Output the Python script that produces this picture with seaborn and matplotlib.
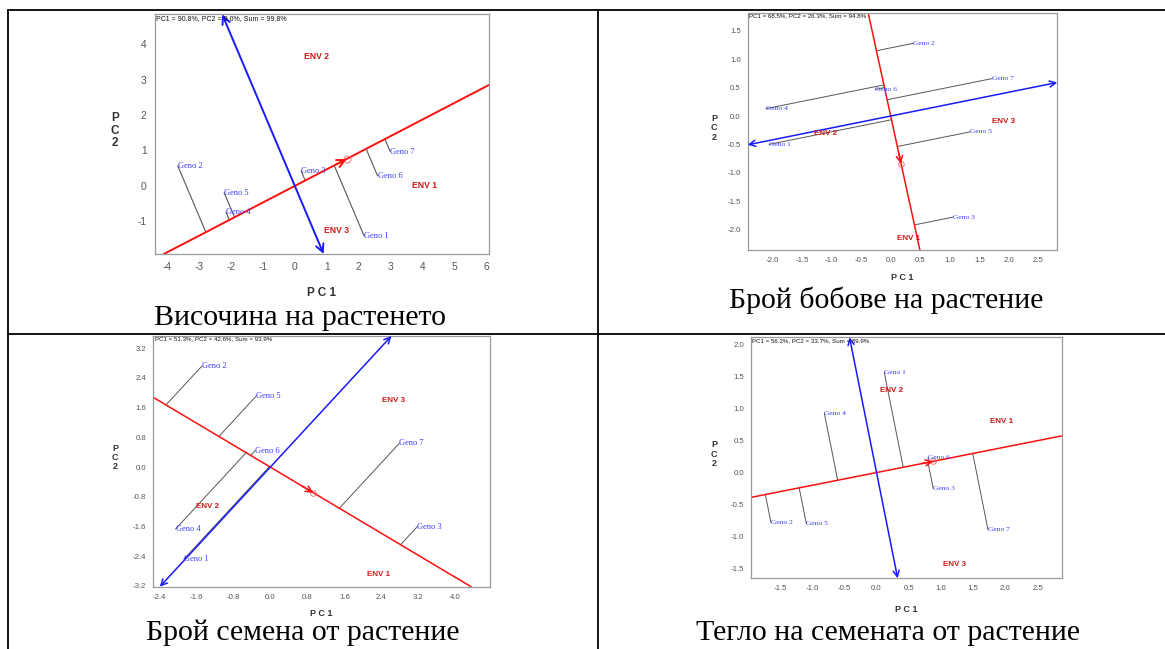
import numpy as np
import pandas as pd
import matplotlib
matplotlib.use("Agg")
import matplotlib.pyplot as plt
from matplotlib.lines import Line2D
import seaborn as sns

sns.set_style("white")
plt.rcParams['font.family'] = ['Liberation Sans', 'DejaVu Sans']

genotypes = ["Geno 1", "Geno 2", "Geno 3", "Geno 4", "Geno 5", "Geno 6", "Geno 7"]
environments = ["ENV 1", "ENV 2", "ENV 3"]

# Plant height
gx1 = [2.17, -3.66, 0.20, -2.15, -2.21, 2.59, 2.98]
gy1 = [-1.42, 0.57, 0.42, -0.74, -0.19, 0.28, 0.97]
ex1 = [4.07, 0.69, 1.31]
ey1 = [0.00, 3.64, -1.27]
avg1 = [1.62, 0.76]
title1 = "PC1 = 90.8%, PC2 = 9.0%, Sum = 99.8%"
caption1 = "Височина на растенето"

# Pods per plant
gx2 = [-2.06, 0.38, 1.06, -2.11, 1.34, -0.26, 1.72]
gy2 = [-0.50, 1.28, -1.78, 0.13, -0.28, 0.47, 0.66]
ex2 = [0.30, -1.10, 1.91]
ey2 = [-2.15, -0.31, -0.09]
avg2 = [0.176, -0.84]
title2 = "PC1 = 68.5%, PC2 = 26.3%, Sum = 94.8%"
caption2 = "Брой бобове на растение"

# Seeds per plant
gx3 = [-1.87, -1.48, 3.18, -2.05, -0.30, -0.33, 2.79]
gy3 = [-2.48, 2.72, -1.60, -1.67, 1.92, 0.44, 0.64]
ex3 = [2.33, -1.35, 2.66]
ey3 = [-2.90, -1.06, 1.79]
avg3 = [0.93, -0.69]
title3 = "PC1 = 51.3%, PC2 = 42.6%, Sum = 93.9%"
caption3 = "Брой семена от растение"

# Seed weight per plant
gx4 = [0.12, -1.64, 0.88, -0.81, -1.09, 0.80, 1.73]
gy4 = [1.56, -0.78, -0.25, 0.92, -0.80, 0.23, -0.89]
ex4 = [1.945, 0.225, 1.21]
ey4 = [0.80, 1.28, -1.44]
avg4 = [0.88, 0.175]
title4 = "PC1 = 56.2%, PC2 = 33.7%, Sum = 89.9%"
caption4 = "Тегло на семената от растение"

xt1 = [-4, -3, -2, -1, 0, 1, 2, 3, 4, 5, 6]
yt1 = [-1, 0, 1, 2, 3, 4]
xt2 = [-2.0, -1.5, -1.0, -0.5, 0.0, 0.5, 1.0, 1.5, 2.0, 2.5]
yt2 = [-2.0, -1.5, -1.0, -0.5, 0.0, 0.5, 1.0, 1.5]
xt3 = [-2.4, -1.6, -0.8, 0.0, 0.8, 1.6, 2.4, 3.2, 4.0]
yt3 = [-3.2, -2.4, -1.6, -0.8, 0.0, 0.8, 1.6, 2.4, 3.2]
xt4 = [-1.5, -1.0, -0.5, 0.0, 0.5, 1.0, 1.5, 2.0, 2.5]
yt4 = [-1.5, -1.0, -0.5, 0.0, 0.5, 1.0, 1.5, 2.0]

W, H = 1165, 649
fig = plt.figure(figsize=(W / 100, H / 100), dpi=100)
fig.patch.set_facecolor("white")

RED = "#ff1010"
BLUE = "#1a1aff"
GENO_C = "#3a3aff"
ENV_C = "#d01818"


def box(l, t, r, b):
    return [l / W, 1 - b / H, (r - l) / W, (b - t) / H]


def edge_point(p, xlim, ylim):
    # furthest point along direction p from the origin that stays inside the axes
    ts = []
    for comp, lim in ((p[0], xlim), (p[1], ylim)):
        if comp > 0:
            ts.append(lim[1] / comp)
        elif comp < 0:
            ts.append(lim[0] / comp)
    return p * min(ts)


def biplot(rect, gx, gy, ex, ey, avg, title, xlim, ylim, xt, yt, fmt, st):
    ax = fig.add_axes(box(*rect))
    gx, gy = np.asarray(gx), np.asarray(gy)
    a = np.asarray(avg, dtype=float)
    d = a / np.linalg.norm(a)
    p = np.array([-d[1], d[0]])

    # projections of genotypes onto the average-environment axis
    t = gx * d[0] + gy * d[1]
    seg = pd.DataFrame({
        "x": np.concatenate([gx, t * d[0]]),
        "y": np.concatenate([gy, t * d[1]]),
        "g": list(range(len(gx))) * 2,
    })
    sns.lineplot(data=seg, x="x", y="y", units="g", estimator=None, sort=False,
                 color="#555555", lw=st["gl"], ax=ax, legend=False)

    # average-environment axis through the origin
    e1 = edge_point(d, xlim, ylim)
    e0 = edge_point(-d, xlim, ylim)
    sns.lineplot(x=[e0[0], e1[0]], y=[e0[1], e1[1]], sort=False, estimator=None,
                 color=RED, lw=st["lw"], ax=ax)
    back = a - d * st["ab"]
    ax.annotate("", xy=a, xytext=back,
                arrowprops=dict(arrowstyle="->", color=RED, lw=st["lw"],
                                mutation_scale=st["ms"], shrinkA=0, shrinkB=0))
    ax.plot([a[0]], [a[1]], marker="o", ms=st["cm"], mfc="none", mec="#ff6060",
            mew=0.6, ls="none")

    # perpendicular axis with arrows at both ends
    b1 = edge_point(p, xlim, ylim)
    b0 = edge_point(-p, xlim, ylim)
    ax.annotate("", xy=b1, xytext=b0,
                arrowprops=dict(arrowstyle="<->", color=BLUE, lw=st["lw"],
                                mutation_scale=st["ms"], shrinkA=0, shrinkB=0))

    for name, x, y in zip(genotypes, gx, gy):
        ax.text(x, y, name, color=GENO_C, family="Liberation Serif",
                fontsize=st["gf"], ha="left", va="center")
    for name, x, y in zip(environments, ex, ey):
        ax.text(x, y, name, color=ENV_C, fontweight="bold",
                fontsize=st["ef"], ha="center", va="center")

    ax.text(0.004, 0.997, title, transform=ax.transAxes, ha="left", va="top",
            fontsize=st["tf"], color="#111111")

    ax.set_xlim(xlim)
    ax.set_ylim(ylim)
    ax.set_xticks(xt)
    ax.set_yticks(yt)
    ax.set_xticklabels([fmt.format(v) for v in xt])
    ax.set_yticklabels([fmt.format(v) for v in yt])
    ax.tick_params(direction="out", length=st["tl"], width=0.8, color="#888888",
                   labelcolor="#555555", labelsize=st["lf"], pad=2)
    for s in ax.spines.values():
        s.set_color("#9a9a9a")
        s.set_linewidth(0.9)
    ax.set_xlabel("P C 1", fontweight="bold", fontsize=st["af"], color="#333333")
    ax.set_ylabel("P\nC\n2", fontweight="bold", fontsize=st["af"], color="#333333",
                  rotation=0, linespacing=1.05)
    ax.xaxis.set_label_coords(0.5, st["xl"])
    ax.xaxis.label.set_va("center")
    ax.yaxis.set_label_coords(st["yl"], 0.515)
    ax.yaxis.label.set_va("center")
    ax.yaxis.label.set_ha("center")
    return ax


big = dict(lw=1.4, gl=0.8, ms=14, ab=0.35, cm=5, gf=6.0, ef=6.2, tf=5.0,
           lf=7.4, tl=4, af=8.5, xl=-0.163, yl=-0.12)
small = dict(lw=1.1, gl=0.7, ms=11, ab=0.2, cm=4, gf=5.4, ef=5.8, tf=4.4,
             lf=5.6, tl=3, af=6.5, xl=-0.114, yl=-0.109)

biplot((155, 14.3, 489, 254), gx1, gy1, ex1, ey1, avg1, title1,
       (-4.37, 6.07), (-1.92, 4.84), xt1, yt1, "{:.0f}", big)

st2 = dict(small, ab=0.18)
biplot((747.7, 12.7, 1057.3, 250), gx2, gy2, ex2, ey2, avg2, title2,
       (-2.42, 2.82), (-2.36, 1.82), xt2, yt2, "{:.1f}", st2)

st3 = dict(small, ab=0.3, gf=6.0, xl=-0.105, yl=-0.114)
biplot((153.3, 336, 490, 586.7), gx3, gy3, ex3, ey3, avg3, title3,
       (-2.53, 4.75), (-3.22, 3.53), xt3, yt3, "{:.1f}", st3)

st4 = dict(small, ab=0.18, xl=-0.13, yl=-0.119)
biplot((751, 337.3, 1062, 578.3), gx4, gy4, ex4, ey4, avg4, title4,
       (-1.95, 2.88), (-1.65, 2.11), xt4, yt4, "{:.1f}", st4)

# captions under each biplot
for txt, cx, cy in ((caption1, 300, 318), (caption2, 886, 300),
                    (caption3, 303, 633), (caption4, 888, 633)):
    fig.text(cx / W, 1 - cy / H, txt, ha="center", va="center",
             family="Liberation Serif", fontsize=21.5, color="#000000")

# table rules
def rule(x0, y0, x1, y1, lw=1.3):
    fig.add_artist(Line2D([x0 / W, x1 / W], [1 - y0 / H, 1 - y1 / H],
                          color="black", lw=lw, transform=fig.transFigure))

rule(8, 10, W, 10)
rule(8, 10, 8, H)
rule(598, 10, 598, H)
rule(8, 334, W, 334)

fig.savefig("out.png", dpi=100, facecolor="white")
